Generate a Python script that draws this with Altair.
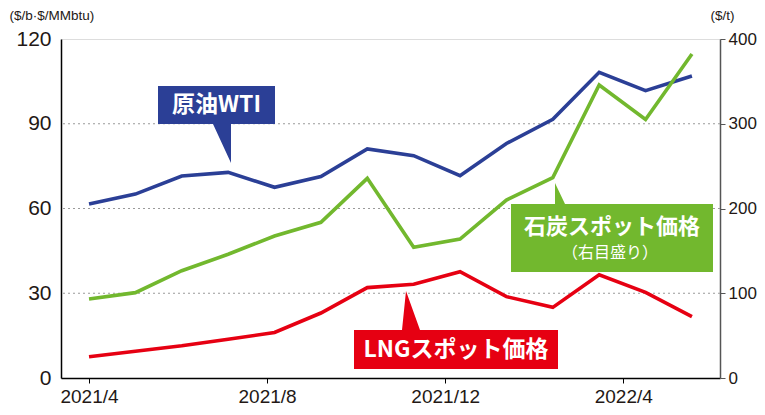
import altair as alt
import pandas as pd

# ---- data ----
months = ["2021/4", "2021/5", "2021/6", "2021/7", "2021/8", "2021/9", "2021/10",
          "2021/11", "2021/12", "2022/1", "2022/2", "2022/3", "2022/4", "2022/5"]
wti = [61.6, 65.1, 71.5, 72.8, 67.5, 71.3, 81.1, 78.7, 71.6, 83.0, 91.6, 108.2, 101.7, 106.9]
lng = [7.5, 9.5, 11.4, 13.7, 16.1, 23.0, 32.0, 33.2, 37.6, 28.8, 25.0, 36.5, 30.3, 21.7]
coal = [93.2, 100.7, 126.6, 146.0, 167.6, 183.7, 235.6, 154.2, 164.0, 210.0, 236.5, 345.7, 305.0, 382.3]

tick_labels = ["2021/4", "2021/8", "2021/12", "2022/4"]
tick_pos = [0.0, 3.84, 7.68, 11.52]
left_ticks = [0, 30, 60, 90, 120]
right_ticks = [0, 100, 200, 300, 400]
grid_vals = [30, 60, 90]

BLUE = "#2B3F96"
GREEN = "#72B82E"
RED = "#E60012"
TICK_FONT = "Liberation Sans, Arial, sans-serif"
JP_FONT = "Noto Sans CJK JP"

df = pd.DataFrame({"i": list(range(len(months))), "month": months,
                   "wti": wti, "lng": lng, "coal": coal})
grid_df = pd.DataFrame({"g": grid_vals})

label_expr = " : ".join(
    [f"datum.value < {p + 0.5} ? '{l}'" for p, l in zip(tick_pos[:-1], tick_labels[:-1])]
    + [f"'{tick_labels[-1]}'"])

x_enc = alt.X("i:Q",
              scale=alt.Scale(domain=[-0.604, 13.605], nice=False, zero=False),
              axis=alt.Axis(values=tick_pos, labelExpr=label_expr, title=None,
                            grid=False, tickSize=5, tickColor="black",
                            domainColor="black", domainWidth=1.5,
                            labelFont=TICK_FONT, labelFontSize=19,
                            labelColor="#231815", labelPadding=4))

y_left = alt.Scale(domain=[0, 120], nice=False, zero=True)
y_right = alt.Scale(domain=[0, 400], nice=False, zero=True)

left_axis = alt.Axis(orient="left", values=left_ticks, ticks=False, tickSize=0,
                     grid=False, domainColor="black", domainWidth=1.5,
                     labelFont=TICK_FONT, labelFontSize=21, labelColor="#231815",
                     labelPadding=10, title="($/b·$/MMbtu)", titleAngle=0,
                     titleAlign="left", titleBaseline="middle", titleX=-52, titleY=-24,
                     titleFont=TICK_FONT, titleFontSize=13.5, titleFontWeight="normal",
                     titleColor="#231815")

right_axis = alt.Axis(orient="right", values=right_ticks, ticks=True, tickSize=5,
                      tickColor="#555555", grid=False, domainColor="#555555",
                      domainWidth=1.5, labelFont=TICK_FONT, labelFontSize=17,
                      labelColor="#231815", labelPadding=3, title="($/t)",
                      titleAngle=0, titleAlign="left", titleBaseline="middle",
                      titleX=-10, titleY=-24, titleFont=TICK_FONT, titleFontSize=13.5,
                      titleFontWeight="normal", titleColor="#231815")

base = alt.Chart(df)

grid = alt.Chart(grid_df).mark_rule(color="#9a9a9a", strokeDash=[2, 3], strokeWidth=1).encode(
    y=alt.Y("g:Q", scale=y_left, axis=left_axis))

wti_line = base.mark_line(color=BLUE, strokeWidth=3.6).encode(
    x=x_enc, y=alt.Y("wti:Q", scale=y_left, axis=left_axis))
lng_line = base.mark_line(color=RED, strokeWidth=3.6).encode(
    x=x_enc, y=alt.Y("lng:Q", scale=y_left, axis=left_axis))

left_layer = alt.layer(grid, wti_line, lng_line)

coal_line = base.mark_line(color=GREEN, strokeWidth=3.6).encode(
    x=x_enc, y=alt.Y("coal:Q", scale=y_right, axis=right_axis))

# ---- callouts (box + pointer) in plot-pixel coordinates ----
def callout(path, color):
    return alt.Chart(pd.DataFrame({"k": [0]})).mark_point(
        shape=path, filled=True, opacity=1, strokeWidth=0, color=color, size=4
    ).encode(x=alt.value(0), y=alt.value(0))

def label(text, x, y, size, weight="bold"):
    return alt.Chart(pd.DataFrame({"t": [text]})).mark_text(
        font=JP_FONT, fontSize=size, fontWeight=weight, color="white",
        align="center", baseline="middle"
    ).encode(text="t:N", x=alt.value(x), y=alt.value(y))

wti_call = callout("M97,47 H214 V85 H170 V124 L152,85 H97 Z", BLUE)
coal_call = callout("M450,165 H494 V144 L504,165 H652 V233 H450 Z", GREEN)
lng_call = callout("M293,291 H341 L345,252 L359,291 H497 V330 H293 Z", RED)

annot = alt.layer(
    wti_call, label("原油WTI", 155.5, 66, 23),
    coal_call, label("石炭スポット価格", 551, 188, 22),
    label("（右目盛り）", 549, 214, 16, "normal"),
    lng_call, label("LNGスポット価格", 395, 311, 23),
)

chart = alt.layer(left_layer, coal_line, annot).resolve_scale(y="independent").properties(
    width=659, height=339,
    padding={"left": 53, "top": 31, "right": 37, "bottom": 29},
    autosize=alt.AutoSizeParams(type="none"),
).configure_view(stroke="black", strokeWidth=1.5).configure(background="white")

chart.save("out.html", embed_options={"renderer": "svg", "actions": False})
